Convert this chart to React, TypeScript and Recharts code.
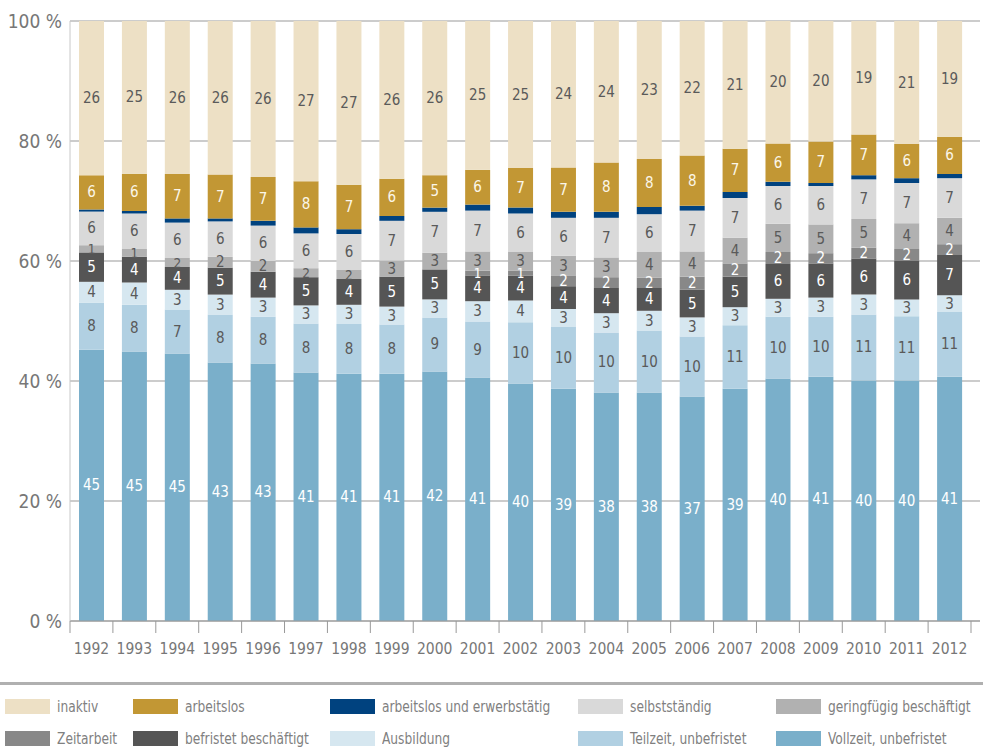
import React from "react"
import { BarChart, Bar, XAxis, YAxis, CartesianGrid, LabelList } from "recharts"

const years = ["1992", "1993", "1994", "1995", "1996", "1997", "1998", "1999", "2000", "2001", "2002",
    "2003", "2004", "2005", "2006", "2007", "2008", "2009", "2010", "2011", "2012"]

const vollzeit = [45.2, 44.9, 44.6, 43.1, 42.9, 41.4, 41.2, 41.2, 41.6, 40.6, 39.6, 38.7, 38.1, 38.1, 37.4, 38.7, 40.4, 40.7, 40.1, 40.1, 40.7]
const teilzeit = [7.8, 7.8, 7.3, 8.0, 7.8, 8.2, 8.3, 8.2, 9.0, 9.3, 10.2, 10.3, 10.0, 10.3, 10.0, 10.6, 10.3, 10.0, 11.0, 10.7, 10.8]
const ausbildung = [3.5, 3.7, 3.3, 3.3, 3.2, 3.0, 3.2, 3.0, 3.0, 3.4, 3.6, 3.0, 3.2, 3.3, 3.2, 3.0, 3.0, 3.2, 3.3, 2.8, 2.8]
const befristet = [4.9, 4.3, 3.8, 4.5, 4.3, 4.7, 4.3, 5.0, 5.0, 4.3, 4.2, 3.8, 4.2, 3.8, 4.6, 5.1, 5.8, 5.7, 6.0, 6.4, 6.7]
const zeitarbeit = [0, 0, 0, 0, 0, 0, 0, 0, 0, 0.8, 0.8, 1.8, 1.8, 1.7, 2.2, 2.2, 2.0, 1.7, 1.8, 2.0, 1.8]
const geringfuegig = [1.2, 1.3, 1.5, 1.8, 1.8, 1.5, 1.5, 2.7, 2.8, 3.2, 3.2, 3.3, 3.3, 4.3, 4.2, 4.3, 4.7, 4.8, 4.8, 4.3, 4.4]
const selbststaendig = [5.6, 5.9, 5.9, 5.9, 5.9, 5.8, 6.0, 6.6, 6.8, 6.8, 6.3, 6.3, 6.6, 6.3, 6.8, 6.6, 6.3, 6.4, 6.6, 6.7, 6.6]
const erwerbstaetig = [0.35, 0.45, 0.7, 0.5, 0.8, 1.0, 0.8, 0.8, 0.7, 1.0, 1.0, 1.0, 1.0, 1.2, 0.8, 1.0, 0.7, 0.5, 0.7, 0.8, 0.7]
const arbeitslos = [5.7, 6.2, 7.4, 7.3, 7.3, 7.7, 7.4, 6.2, 5.4, 5.8, 6.6, 7.4, 8.2, 8.0, 8.4, 7.2, 6.4, 6.9, 6.8, 5.7, 6.2]
const inaktiv = [25.7, 25.45, 25.5, 25.6, 26.0, 26.7, 27.3, 26.3, 25.7, 24.8, 24.5, 24.4, 23.6, 23.0, 22.4, 21.3, 20.4, 20.1, 18.9, 20.5, 19.3]

const yTicks = [0, 0.2, 0.4, 0.6, 0.8, 1]

const series = [
    { key: "vollzeit", name: "Vollzeit, unbefristet", values: vollzeit, color: "#7aafca", text: "#ffffff" },
    { key: "teilzeit", name: "Teilzeit, unbefristet", values: teilzeit, color: "#b1d0e2", text: "#5a5a5a" },
    { key: "ausbildung", name: "Ausbildung", values: ausbildung, color: "#d6e7f0", text: "#5a5a5a" },
    { key: "befristet", name: "befristet beschäftigt", values: befristet, color: "#555555", text: "#ffffff" },
    { key: "zeitarbeit", name: "Zeitarbeit", values: zeitarbeit, color: "#888888", text: "#ffffff" },
    { key: "geringfuegig", name: "geringfügig beschäftigt", values: geringfuegig, color: "#b1b1b1", text: "#5a5a5a" },
    { key: "selbststaendig", name: "selbstständig", values: selbststaendig, color: "#d9d9d9", text: "#5a5a5a" },
    { key: "erwerbstaetig", name: "arbeitslos und erwerbstätig", values: erwerbstaetig, color: "#00427f", text: "" },
    { key: "arbeitslos", name: "arbeitslos", values: arbeitslos, color: "#c29734", text: "#fbf6e8" },
    { key: "inaktiv", name: "inaktiv", values: inaktiv, color: "#ede0c5", text: "#5a5a5a" },
]

const data = years.map((year, i) => {
    const row: Record<string, any> = { year }
    series.forEach(s => { row[s.key] = s.values[i] })
    return row
})

const legendRows = [
    ["inaktiv", "arbeitslos", "erwerbstaetig", "selbststaendig", "geringfuegig"],
    ["zeitarbeit", "befristet", "ausbildung", "teilzeit", "vollzeit"],
]
const legendX = [5, 133, 330, 578, 776]

const FONT = "'DejaVu Sans Condensed', 'DejaVu Sans', sans-serif"
const PLOT_LEFT = 70
const PLOT_RIGHT = 980
const PAD_RIGHT = 9
const HALF_BAND = (PLOT_RIGHT - PAD_RIGHT - PLOT_LEFT) / years.length / 2

function YearTick(props: any) {
    const { x, y, payload, index } = props
    return (
        <g>
            <line x1={x - HALF_BAND} x2={x - HALF_BAND} y1={y - 8} y2={y + 4} stroke="#999" />
            {index === years.length - 1 && (
                <line x1={x + HALF_BAND} x2={x + HALF_BAND} y1={y - 8} y2={y + 4} stroke="#999" />
            )}
            <text x={x} y={y + 25} textAnchor="middle" fontSize={15.5} fill="#777">{payload.value}</text>
        </g>
    )
}

// centred segment label; thin segments get a slightly smaller digit
function segmentLabel(color: string) {
    return (props: any) => {
        const { x, y, width, height, value } = props
        if (value == null || value < 0.75) return null
        const small = height < 10
        return (
            <text
                x={x + width / 2}
                y={y + height / 2}
                textAnchor="middle"
                dominantBaseline="central"
                fontSize={small ? 13.5 : 15}
                fill={color}
            >
                {Math.round(value)}
            </text>
        )
    }
}

export default function App() {
    return (
        <div style={{ position: "absolute", left: 0, top: 0, width: 983, height: 754, background: "#fff", fontFamily: FONT, fontStretch: "condensed" }}>
            <BarChart
                width={983}
                height={670}
                data={data}
                stackOffset="expand"
                barCategoryGap="21%"
                margin={{ top: 21, right: 983 - PLOT_RIGHT, left: 0, bottom: 0 }}
            >
                <CartesianGrid vertical={false} stroke="#9a9a9a" strokeWidth={1.2} />
                <XAxis
                    dataKey="year"
                    height={49}
                    tickLine={false}
                    axisLine={{ stroke: "#9a9a9a", strokeWidth: 1.2 }}
                    padding={{ left: 0, right: PAD_RIGHT }}
                    interval={0}
                    tick={<YearTick />}
                />
                <YAxis
                    width={PLOT_LEFT}
                    ticks={yTicks}
                    domain={[0, 1]}
                    tickLine={false}
                    axisLine={{ stroke: "#c8c8c8" }}
                    tickFormatter={(v: number) => `${Math.round(v * 100)} %`}
                    tick={{ fontSize: 19, fill: "#777" }}
                />
                {series.map(s => (
                    <Bar key={s.key} dataKey={s.key} name={s.name} stackId="a" fill={s.color} isAnimationActive={false}>
                        {s.text && <LabelList dataKey={s.key} content={segmentLabel(s.text)} />}
                    </Bar>
                ))}
            </BarChart>
            <div style={{ position: "absolute", left: 0, top: 682, width: 983, height: 3, background: "#b0b0b0" }} />
            {legendRows.map((row, r) =>
                row.map((key, c) => {
                    const s = series.find(x => x.key === key)!
                    const top = r === 0 ? 699 : 731
                    return (
                        <div key={key} style={{ position: "absolute", left: legendX[c], top, height: 15, display: "flex", alignItems: "center" }}>
                            <div style={{ width: 45, height: 15, background: s.color }} />
                            <span style={{ marginLeft: 7, fontSize: 16, color: "#808080", whiteSpace: "nowrap", display: "inline-block", transform: "scaleX(0.85)", transformOrigin: "left center" }}>{s.name}</span>
                        </div>
                    )
                })
            )}
        </div>
    )
}
